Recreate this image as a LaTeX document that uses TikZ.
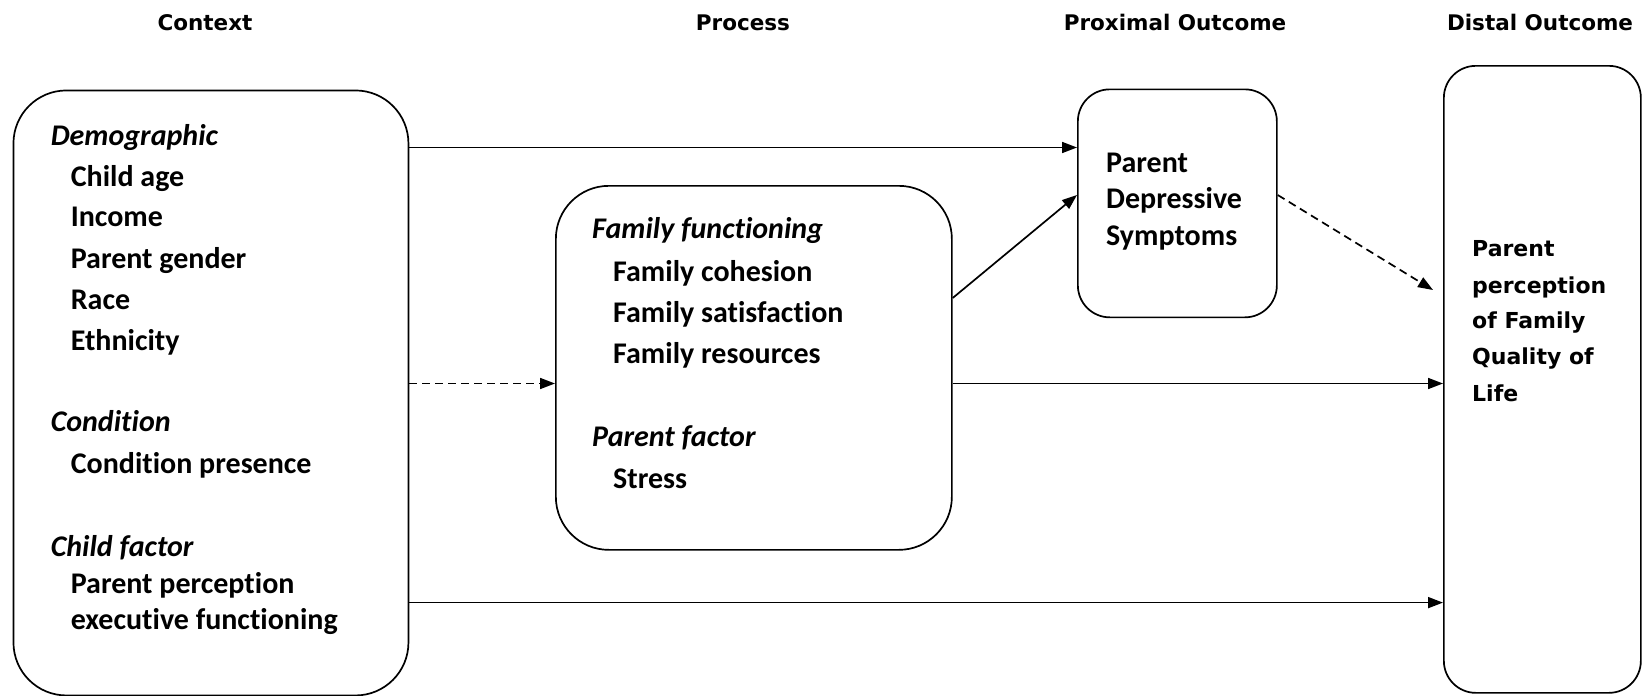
\documentclass[tikz,border=0pt]{standalone}
\usepackage{fontspec}
\setmainfont[Ligatures=NoCommon]{Carlito}
\newfontfamily\headfont{DejaVu Sans}
\usetikzlibrary{arrows.meta}

\begin{document}
\begin{tikzpicture}[x=1pt,y=-1pt,
  box/.style={draw, line width=1.7pt, rounded corners=#1, inner sep=0pt, anchor=north west},
  itemtxt/.style={anchor=mid west, inner sep=0pt, font=\fontsize{30}{35}\selectfont\bfseries},
  cattxt/.style={anchor=mid west, inner sep=0pt, font=\fontsize{30}{35}\selectfont\bfseries\itshape},
  headtxt/.style={anchor=mid, inner sep=0pt, font=\headfont\fontsize{21.5}{26}\selectfont\bfseries},
  qoltxt/.style={anchor=mid west, inner sep=0pt, font=\headfont\fontsize{22}{26}\selectfont\bfseries},
  arr/.style={line width=1.7pt, -{Triangle[length=15pt,width=11pt]}},
  darr/.style={arr, dash pattern=on 8pt off 5pt}]

\useasboundingbox (0,0) rectangle (1652,696);

% column headings
\node[headtxt] (hctx)  at (205,28)  {Context};
\node[headtxt] (hproc) at (743,28)  {Process};
\node[headtxt] (hprox) at (1175,28) {Proximal Outcome};
\node[headtxt] (hdist) at (1540,28) {Distal Outcome};

% boxes
\node[box=53pt, minimum width=395pt, minimum height=605pt] (ctx)  at (12.6,89.6) {};
\node[box=53pt, minimum width=396pt, minimum height=364pt] (proc) at (555,185) {};
\node[box=32pt, minimum width=199pt, minimum height=228pt] (prox) at (1077,88.5) {};
\node[box=32pt, minimum width=197pt, minimum height=627pt] (dist) at (1443,65) {};

% context contents
\node[cattxt]  (demo)  at (50.6,143)   {Demographic};
\node[itemtxt] (age)   at (70.6,184)   {Child age};
\node[itemtxt] (inc)   at (70.6,224)   {Income};
\node[itemtxt] (gen)   at (70.6,266)   {Parent gender};
\node[itemtxt] (race)  at (70.6,307)   {Race};
\node[itemtxt] (eth)   at (70.6,348)   {Ethnicity};
\node[cattxt]  (cond)  at (50.6,429.5) {Condition};
\node[itemtxt] (pres)  at (70.6,471.6) {Condition presence};
\node[cattxt]  (child) at (50.6,554)   {Child factor};
\node[itemtxt] (perc)  at (70.6,590.7) {Parent perception};
\node[itemtxt] (exec)  at (70.6,627.6) {executive functioning};

% process contents
\node[cattxt]  (ff)   at (592,236.5) {Family functioning};
\node[itemtxt] (coh)  at (613,279)   {Family cohesion};
\node[itemtxt] (sat)  at (613,320)   {Family satisfaction};
\node[itemtxt] (res)  at (613,361)   {Family resources};
\node[cattxt]  (pf)   at (592,444)   {Parent factor};
\node[itemtxt] (str)  at (613,486)   {Stress};

% proximal outcome contents
\node[itemtxt] (dep1) at (1106,170) {Parent};
\node[itemtxt] (dep2) at (1106,206) {Depressive};
\node[itemtxt] (dep3) at (1106,243) {Symptoms};

% distal outcome contents
\node[qoltxt] (q1) at (1472,254) {Parent};
\node[qoltxt] (q2) at (1472,291) {perception};
\node[qoltxt] (q3) at (1472,326.5) {of Family};
\node[qoltxt] (q4) at (1472,362.5) {Quality of};
\node[qoltxt] (q5) at (1472,399.5) {Life};

% paths
\coordinate (dtip) at (1433,290);
\draw[arr]  (ctx.east |- 0,147.5) -- (prox.west |- 0,147.5);
\draw[darr] (ctx.east |- 0,383.5) -- (proc.west |- 0,383.5);
\draw[arr]  (proc.east |- 0,298) -- (prox.west |- 0,195);
\draw[arr]  (proc.east |- 0,383.5) -- (dist.west |- 0,383.5);
\draw[arr]  (ctx.east |- 0,602.6) -- (dist.west |- 0,602.6);
\draw[darr] (prox.east |- 0,195) -- (dtip);

\end{tikzpicture}
\end{document}
